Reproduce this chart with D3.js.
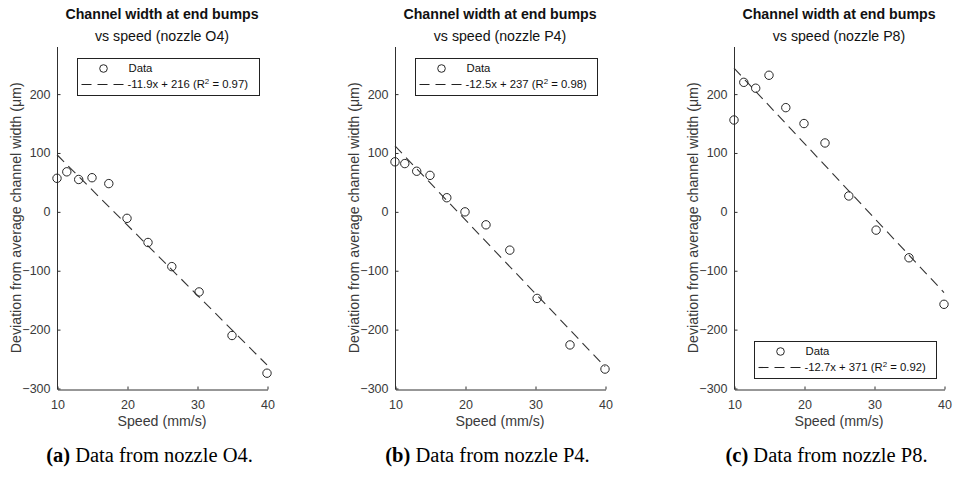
<!DOCTYPE html>
<html>
<head>
<meta charset="utf-8">
<script src="https://cdn.jsdelivr.net/npm/d3@7"></script>
<style>
  html, body { margin: 0; padding: 0; background: #fff; }
  svg { display: block; }
  .ax text { font-family: "Liberation Sans", Arial, sans-serif; }
</style>
</head>
<body>
<svg id="fig" width="954" height="477"></svg>
<script>
// Printing speeds shared by all three nozzles (mm/s)
const speeds = [10, 11.4, 13.1, 15, 17.4, 20, 23, 26.4, 30.3, 35, 40];

// Deviation from average channel width at the end bumps (µm)
const devO4 = [57, 68, 55, 58, 48, -11, -52, -93, -136, -210, -274];
const devP4 = [85, 82, 69, 62, 24, 0, -22, -65, -147, -226, -267];
const devP8 = [156, 220, 210, 232, 177, 150, 117, 27, -31, -78, -157];

// Linear fits: slope, intercept, R²
const fitO4 = [-11.9, 216, 0.97];
const fitP4 = [-12.5, 237, 0.98];
const fitP8 = [-12.7, 371, 0.92];

const nozzles = ["O4", "P4", "P8"];
const captionTags = ["(a)", "(b)", "(c)"];

const xTicks = [10, 20, 30, 40];
const yTicks = [-300, -200, -100, 0, 100, 200];

const panels = [
  { nozzle: nozzles[0], tag: captionTags[0], dev: devO4, fit: fitO4, left: 57,  legend: "ne" },
  { nozzle: nozzles[1], tag: captionTags[1], dev: devP4, fit: fitP4, left: 395, legend: "ne" },
  { nozzle: nozzles[2], tag: captionTags[2], dev: devP8, fit: fitP8, left: 734, legend: "se" }
];

const svg = d3.select("#fig");
const axisColor = "#303030";
const inkColor = "#262626";
const plotTop = 47, plotBottom = 388.5, plotW = 210;

const y = d3.scaleLinear().domain([-300, 280]).range([plotBottom, plotTop]);

panels.forEach(p => {
  const x = d3.scaleLinear().domain([10, 40]).range([p.left, p.left + plotW]);
  const g = svg.append("g").attr("class", "ax");
  const cx = p.left + plotW / 2;

  // titles
  g.append("text").attr("x", cx).attr("y", 18.5)
    .attr("text-anchor", "middle").attr("font-size", 14.2).attr("font-weight", "bold")
    .attr("fill", "#111").text("Channel width at end bumps");
  g.append("text").attr("x", cx).attr("y", 41)
    .attr("text-anchor", "middle").attr("font-size", 14.2)
    .attr("fill", "#111").text(`vs speed (nozzle ${p.nozzle})`);

  // x axis (ticks pointing inward)
  const xAxis = d3.axisBottom(x).tickValues(xTicks).tickSizeInner(-3).tickSizeOuter(0).tickPadding(8);
  const gx = g.append("g").attr("transform", `translate(0.5,${Math.round(plotBottom) + 0.5})`).call(xAxis);
  // y axis (ticks pointing inward)
  const yAxis = d3.axisLeft(y).tickValues(yTicks).tickSizeInner(-3).tickSizeOuter(0).tickPadding(7);
  const gy = g.append("g").attr("transform", `translate(${p.left + 0.5},0)`).call(yAxis);

  [gx, gy].forEach(a => {
    a.select(".domain").attr("stroke", axisColor);
    a.selectAll(".tick line").attr("stroke", axisColor);
    a.selectAll(".tick text").attr("fill", "#3a3a3a").attr("font-size", 12.5)
      .attr("font-family", "Liberation Sans, Arial, sans-serif");
  });
  gx.selectAll(".tick text").attr("dy", "0.95em");
  // extend the y spine up to the top of the plotting area
  gy.select(".domain").attr("d", `M0,${plotTop}V${Math.round(plotBottom) + 0.5}`);

  // axis labels
  g.append("text").attr("x", cx).attr("y", 426)
    .attr("text-anchor", "middle").attr("font-size", 14.2).attr("fill", "#3a3a3a")
    .text("Speed (mm/s)");
  g.append("text")
    .attr("transform", `translate(${p.left - 36.5},${(plotTop + plotBottom) / 2}) rotate(-90)`)
    .attr("text-anchor", "middle").attr("font-size", 14.2).attr("fill", "#3a3a3a")
    .text("Deviation from average channel width (\u03bcm)");

  // fitted line
  const [m, b, r2] = p.fit;
  const fitLine = d3.line().x(d => x(d)).y(d => y(m * d + b));
  g.append("path").attr("d", fitLine([10, 40]))
    .attr("fill", "none").attr("stroke", "#333").attr("stroke-width", 1.1)
    .attr("stroke-dasharray", "10,6");

  // data points
  g.append("g").selectAll("circle").data(speeds.map((s, i) => [s, p.dev[i]]))
    .join("circle")
    .attr("cx", d => x(d[0])).attr("cy", d => y(d[1])).attr("r", 4.2)
    .attr("fill", "none").attr("stroke", inkColor).attr("stroke-width", 1);

  // legend box
  const lw = 182, lh = 37;
  const lx = p.left + plotW - 8.5 - lw;
  const ly = p.legend === "ne" ? plotTop + 11 : Math.round(plotBottom) - 11.5 - lh;
  const lg = g.append("g").attr("transform", `translate(${Math.round(lx) + 0.5},${Math.round(ly) + 0.5})`);
  lg.append("rect").attr("width", lw).attr("height", lh)
    .attr("fill", "#fff").attr("stroke", "#222").attr("stroke-width", 1);
  lg.append("circle").attr("cx", 26).attr("cy", 10).attr("r", 3.8)
    .attr("fill", "none").attr("stroke", inkColor);
  lg.append("text").attr("x", 51).attr("y", 10).attr("dy", "0.35em")
    .attr("font-size", 11.3).attr("fill", "#111").text("Data");
  lg.append("line").attr("x1", 4).attr("x2", 47).attr("y1", 26).attr("y2", 26)
    .attr("stroke", "#222").attr("stroke-width", 1.1).attr("stroke-dasharray", "10,6");
  const fmt = v => (v < 0 ? "-" : "") + Math.abs(v);
  const lt = lg.append("text").attr("x", 50).attr("y", 26).attr("dy", "0.35em")
    .attr("font-size", 11.3).attr("fill", "#111");
  lt.append("tspan").text(`${fmt(m)}x + ${b} (R`);
  lt.append("tspan").attr("font-size", 8).attr("baseline-shift", "super").text("2");
  lt.append("tspan").text(` = ${r2.toFixed(2)})`);

  // sub-figure caption
  const cap = svg.append("text").attr("x", cx - 12.5).attr("y", 462)
    .attr("text-anchor", "middle").attr("font-size", 20.5)
    .attr("font-family", "Liberation Serif, Times New Roman, serif").attr("fill", "#000");
  cap.append("tspan").attr("font-weight", "bold").text(p.tag);
  cap.append("tspan").text(` Data from nozzle ${p.nozzle}.`);
});
</script>
</body>
</html>
